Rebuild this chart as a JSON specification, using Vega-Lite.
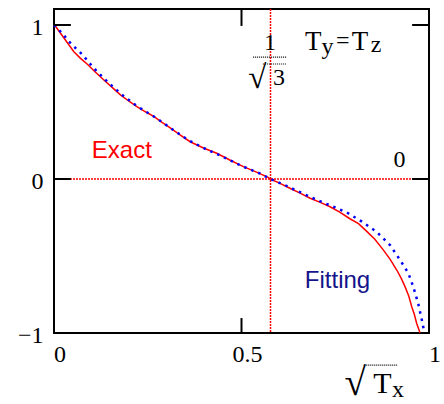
{
  "$schema": "https://vega.github.io/schema/vega-lite/v6.json",
  "width": 375,
  "height": 324,
  "autosize": {"type": "none"},
  "padding": {"left": 54, "top": 9, "right": 15, "bottom": 71},
  "background": "white",
  "config": {
    "view": {"stroke": "black", "strokeWidth": 2},
    "axis": {
      "grid": false,
      "domain": false,
      "ticks": false,
      "labelFont": "Liberation Serif",
      "labelFontSize": 24,
      "labelColor": "black",
      "labelFlush": false,
      "labelOverlap": false
    }
  },
  "datasets": {
    "exact": [
      {"x": 0.0, "y": 1.0}, {"x": 0.005, "y": 0.989}, {"x": 0.015, "y": 0.955},
      {"x": 0.027, "y": 0.914}, {"x": 0.04, "y": 0.87}, {"x": 0.053, "y": 0.827},
      {"x": 0.07, "y": 0.785}, {"x": 0.089, "y": 0.745}, {"x": 0.11, "y": 0.695},
      {"x": 0.133, "y": 0.643}, {"x": 0.155, "y": 0.595}, {"x": 0.178, "y": 0.545},
      {"x": 0.2, "y": 0.505}, {"x": 0.222, "y": 0.469}, {"x": 0.245, "y": 0.435},
      {"x": 0.267, "y": 0.405}, {"x": 0.289, "y": 0.366}, {"x": 0.309, "y": 0.333},
      {"x": 0.336, "y": 0.287}, {"x": 0.363, "y": 0.242}, {"x": 0.4, "y": 0.2},
      {"x": 0.434, "y": 0.167}, {"x": 0.47, "y": 0.122}, {"x": 0.505, "y": 0.08},
      {"x": 0.54, "y": 0.045}, {"x": 0.571, "y": 0.011}, {"x": 0.577, "y": 0.0},
      {"x": 0.6, "y": -0.025}, {"x": 0.629, "y": -0.06}, {"x": 0.655, "y": -0.09},
      {"x": 0.683, "y": -0.125}, {"x": 0.71, "y": -0.152}, {"x": 0.736, "y": -0.18},
      {"x": 0.762, "y": -0.215}, {"x": 0.789, "y": -0.258}, {"x": 0.812, "y": -0.29},
      {"x": 0.834, "y": -0.34}, {"x": 0.855, "y": -0.39}, {"x": 0.878, "y": -0.46},
      {"x": 0.896, "y": -0.52}, {"x": 0.914, "y": -0.591}, {"x": 0.926, "y": -0.645},
      {"x": 0.936, "y": -0.699}, {"x": 0.946, "y": -0.76}, {"x": 0.954, "y": -0.829},
      {"x": 0.961, "y": -0.88}, {"x": 0.967, "y": -0.937}, {"x": 0.972, "y": -0.97},
      {"x": 0.976, "y": -1.0}
    ],
    "fitting": [
      {"x": 0.0, "y": 1.0}, {"x": 0.022, "y": 0.946}, {"x": 0.04, "y": 0.892},
      {"x": 0.058, "y": 0.849}, {"x": 0.075, "y": 0.81}, {"x": 0.105, "y": 0.723},
      {"x": 0.142, "y": 0.632}, {"x": 0.18, "y": 0.55}, {"x": 0.22, "y": 0.475},
      {"x": 0.27, "y": 0.4}, {"x": 0.32, "y": 0.315}, {"x": 0.36, "y": 0.25},
      {"x": 0.4, "y": 0.2}, {"x": 0.45, "y": 0.145}, {"x": 0.5, "y": 0.085},
      {"x": 0.55, "y": 0.035}, {"x": 0.577, "y": 0.0}, {"x": 0.62, "y": -0.045},
      {"x": 0.66, "y": -0.09}, {"x": 0.7, "y": -0.135}, {"x": 0.745, "y": -0.18},
      {"x": 0.785, "y": -0.223}, {"x": 0.821, "y": -0.277}, {"x": 0.86, "y": -0.342},
      {"x": 0.896, "y": -0.429}, {"x": 0.923, "y": -0.526}, {"x": 0.945, "y": -0.612},
      {"x": 0.958, "y": -0.699}, {"x": 0.971, "y": -0.807}, {"x": 0.981, "y": -0.916},
      {"x": 0.987, "y": -0.99}, {"x": 0.989, "y": -1.0}
    ]
  },
  "layer": [
    {
      "data": {"values": [{"y": 0}]},
      "mark": {"type": "rule", "color": "#ff0000", "strokeWidth": 1.5, "strokeDash": [2, 1]},
      "encoding": {
        "y": {
          "field": "y", "type": "quantitative",
          "scale": {"domain": [-1, 1.104], "nice": false, "zero": false},
          "axis": {"orient": "left", "values": [-1, 0, 1], "format": "~g", "labelPadding": 11, "labelOffset": 2.5, "title": null}
        }
      }
    },
    {
      "data": {"values": [{"x": 0.57735}]},
      "mark": {"type": "rule", "color": "#ff0000", "strokeWidth": 1.5, "strokeDash": [2, 1]},
      "encoding": {
        "x": {
          "field": "x", "type": "quantitative",
          "scale": {"domain": [0, 1], "nice": false, "zero": false},
          "axis": {"orient": "bottom", "values": [0, 0.5, 1], "format": "~g", "labelPadding": 9, "labelOffset": 5.5, "title": null}
        }
      }
    },
    {
      "data": {"name": "exact"},
      "mark": {"type": "line", "color": "#ff0000", "strokeWidth": 1.5},
      "encoding": {
        "x": {"field": "x", "type": "quantitative"},
        "y": {"field": "y", "type": "quantitative"}
      }
    },
    {
      "data": {"name": "fitting"},
      "mark": {"type": "line", "color": "#0000ff", "strokeWidth": 2.5, "strokeDash": [2.5, 5]},
      "encoding": {
        "x": {"field": "x", "type": "quantitative"},
        "y": {"field": "y", "type": "quantitative"}
      }
    },
    {
      "description": "inward tick marks on the top and bottom edges of the frame",
      "data": {"values": [
        {"x": 0.5, "y": -1.0, "y2": -0.903},
        {"x": 0.5, "y": 1.104, "y2": 0.994}
      ]},
      "mark": {"type": "rule", "color": "black", "strokeWidth": 2},
      "encoding": {
        "x": {"field": "x", "type": "quantitative"},
        "y": {"field": "y", "type": "quantitative"},
        "y2": {"field": "y2"}
      }
    },
    {
      "description": "inward tick marks on the left and right edges of the frame",
      "data": {"values": [
        {"y": 1, "x": 0, "x2": 0.045},
        {"y": 0, "x": 0, "x2": 0.045},
        {"y": 1, "x": 0.955, "x2": 1},
        {"y": 0, "x": 0.955, "x2": 1}
      ]},
      "mark": {"type": "rule", "color": "black", "strokeWidth": 2},
      "encoding": {
        "x": {"field": "x", "type": "quantitative"},
        "x2": {"field": "x2"},
        "y": {"field": "y", "type": "quantitative"}
      }
    },
    {
      "data": {"values": [
        {"x": 0.531, "x2": 0.619, "y": 0.792},
        {"x": 0.557, "x2": 0.619, "y": 0.747},
        {"x": 0.826, "x2": 0.917, "y": -1.208}
      ]},
      "mark": {"type": "rule", "color": "black", "strokeWidth": 1.2, "strokeDash": [1, 1]},
      "encoding": {
        "x": {"field": "x", "type": "quantitative"},
        "x2": {"field": "x2"},
        "y": {"field": "y", "type": "quantitative"}
      }
    },
    {
      "data": {"values": [
        {"t": "1", "x": 0.576, "y": 0.838},
        {"t": "3", "x": 0.6, "y": 0.61},
        {"t": "0", "x": 0.921, "y": 0.078},
        {"t": "y", "x": 0.729, "y": 0.812},
        {"t": "=", "x": 0.77, "y": 0.85},
        {"t": "z", "x": 0.859, "y": 0.825},
        {"t": "x", "x": 0.917, "y": -1.416}
      ]},
      "mark": {"type": "text", "font": "Liberation Serif", "fontSize": 24, "color": "black", "align": "center", "baseline": "alphabetic"},
      "encoding": {
        "x": {"field": "x", "type": "quantitative"},
        "y": {"field": "y", "type": "quantitative"},
        "text": {"field": "t"}
      }
    },
    {
      "data": {"values": [
        {"t": "T", "x": 0.691, "y": 0.838},
        {"t": "T", "x": 0.816, "y": 0.838}
      ]},
      "mark": {"type": "text", "font": "Liberation Serif", "fontSize": 27, "color": "black", "align": "center", "baseline": "alphabetic"},
      "encoding": {
        "x": {"field": "x", "type": "quantitative"},
        "y": {"field": "y", "type": "quantitative"},
        "text": {"field": "t"}
      }
    },
    {
      "data": {"values": [{"t": "√", "x": 0.542, "y": 0.59}]},
      "mark": {"type": "text", "font": "Liberation Serif", "fontSize": 33, "color": "black", "align": "center", "baseline": "alphabetic"},
      "encoding": {
        "x": {"field": "x", "type": "quantitative"},
        "y": {"field": "y", "type": "quantitative"},
        "text": {"field": "t"}
      }
    },
    {
      "data": {"values": [{"t": "√", "x": 0.803, "y": -1.4}]},
      "mark": {"type": "text", "font": "Liberation Serif", "fontSize": 39, "color": "black", "align": "center", "baseline": "alphabetic"},
      "encoding": {
        "x": {"field": "x", "type": "quantitative"},
        "y": {"field": "y", "type": "quantitative"},
        "text": {"field": "t"}
      }
    },
    {
      "data": {"values": [{"t": "T", "x": 0.876, "y": -1.39}]},
      "mark": {"type": "text", "font": "Liberation Serif", "fontSize": 30, "color": "black", "align": "center", "baseline": "alphabetic"},
      "encoding": {
        "x": {"field": "x", "type": "quantitative"},
        "y": {"field": "y", "type": "quantitative"},
        "text": {"field": "t"}
      }
    },
    {
      "data": {"values": [{"t": "Exact", "x": 0.181, "y": 0.136}]},
      "mark": {"type": "text", "font": "Liberation Sans", "fontSize": 24, "color": "#ff0000", "align": "center", "baseline": "alphabetic"},
      "encoding": {
        "x": {"field": "x", "type": "quantitative"},
        "y": {"field": "y", "type": "quantitative"},
        "text": {"field": "t"}
      }
    },
    {
      "data": {"values": [{"t": "Fitting", "x": 0.756, "y": -0.708}]},
      "mark": {"type": "text", "font": "Liberation Sans", "fontSize": 24, "color": "#14148c", "align": "center", "baseline": "alphabetic"},
      "encoding": {
        "x": {"field": "x", "type": "quantitative"},
        "y": {"field": "y", "type": "quantitative"},
        "text": {"field": "t"}
      }
    }
  ]
}
